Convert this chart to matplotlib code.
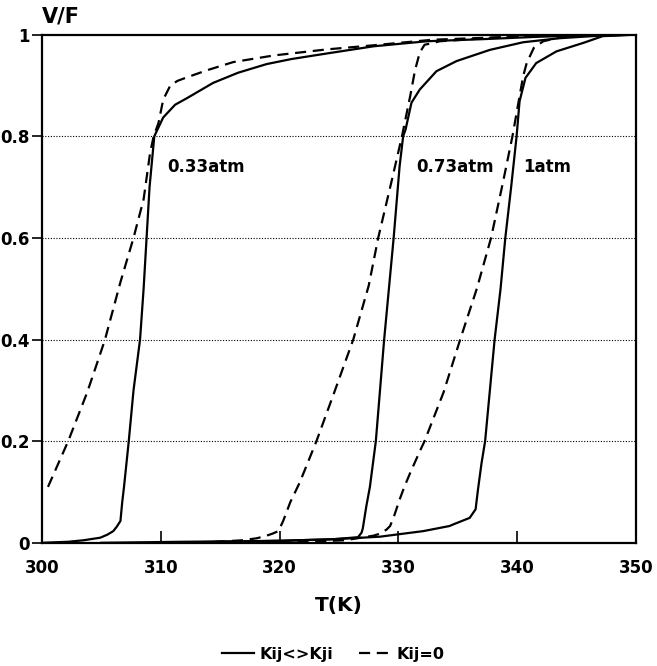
import matplotlib
matplotlib.use('Agg')
import matplotlib.pyplot as plt

# vapour fraction V/F versus temperature, three pressures,
# with binary interaction parameters Kij<>Kji (solid) and Kij=0 (dashed)
t_033_asym = [300.0, 302.2, 303.5, 304.9, 305.5, 306.0, 306.3, 306.6, 306.75, 306.9,
              307.3, 307.7, 308.25, 308.55, 308.8, 309.05, 309.45, 310.2, 311.2, 312.2,
              314.4, 316.5, 318.9, 321.0, 324.0, 327.9, 332.4, 337.0, 342.0, 347.0, 350.0]
v_033_asym = [0.0, 0.002, 0.005, 0.01, 0.016, 0.023, 0.032, 0.043, 0.08, 0.11,
              0.2, 0.3, 0.4, 0.5, 0.6, 0.7, 0.8, 0.837, 0.862, 0.875,
              0.905, 0.925, 0.942, 0.952, 0.963, 0.977, 0.987, 0.991, 0.996, 0.999, 1.0]

t_033_zero = [300.5, 302.2, 303.8, 304.8, 305.3, 306.6, 307.7, 308.55, 309.1, 309.4,
              309.8, 310.2, 310.8, 311.4, 312.2, 313.9, 316.1, 319.5, 324.0, 327.9,
              332.9, 342.3, 350.0]
v_033_zero = [0.11, 0.2, 0.296, 0.365, 0.4, 0.513, 0.6, 0.676, 0.768, 0.8,
              0.826, 0.872, 0.9, 0.909, 0.916, 0.93, 0.946, 0.959, 0.971, 0.979,
              0.99, 0.998, 1.0]

t_073_asym = [305.0, 311.8, 316.9, 320.3, 324.5, 326.6, 326.9, 327.0, 327.3, 327.6,
              328.1, 328.45, 328.8, 329.2, 329.6, 330.1, 330.4, 330.6, 331.1, 331.8,
              333.2, 334.9, 337.7, 340.5, 343.6, 347.0, 350.0]
v_073_asym = [0.0, 0.002, 0.003, 0.004, 0.007, 0.011, 0.02, 0.028, 0.072, 0.11,
              0.2, 0.3, 0.4, 0.5, 0.6, 0.741, 0.8, 0.813, 0.866, 0.892,
              0.928, 0.948, 0.970, 0.985, 0.993, 0.998, 1.0]

t_073_zero = [313.0, 314.7, 316.9, 318.1, 318.9, 319.4, 319.9, 320.3, 320.9, 321.7,
              323.1, 324.6, 326.2, 327.5, 328.3, 329.4, 330.3, 331.0, 331.4, 331.8,
              332.2, 333.5, 338.0, 342.3, 350.0]
v_073_zero = [0.0, 0.002, 0.005, 0.009, 0.014, 0.018, 0.023, 0.043, 0.08, 0.119,
              0.2, 0.296, 0.4, 0.506, 0.6, 0.709, 0.8, 0.88, 0.93, 0.965,
              0.98, 0.987, 0.994, 0.998, 1.0]

t_1_asym = [310.0, 320.0, 324.5, 326.9, 328.45, 330.1, 332.1, 334.3, 334.6, 336.0,
            336.5, 336.7, 337.0, 337.3, 338.1, 338.6, 339.0, 339.5, 339.95, 340.2,
            340.7, 341.6, 343.3, 345.6, 347.2, 350.0]
v_1_asym = [0.0, 0.004, 0.007, 0.01, 0.012, 0.017, 0.023, 0.033, 0.036, 0.049,
            0.066, 0.105, 0.157, 0.2, 0.4, 0.5, 0.6, 0.702, 0.8, 0.869,
            0.915, 0.944, 0.967, 0.984, 0.997, 1.0]

t_1_zero = [320.0, 325.5, 327.9, 328.45, 329.0, 329.3, 329.6, 330.1, 330.5, 331.0,
            331.8, 332.2, 333.8, 335.2, 336.6, 337.8, 338.8, 339.6, 340.5, 340.8,
            341.4, 342.2, 344.1, 350.0]
v_1_zero = [0.0, 0.005, 0.014, 0.018, 0.026, 0.033, 0.05, 0.085, 0.11, 0.138,
            0.18, 0.2, 0.296, 0.4, 0.5, 0.6, 0.709, 0.8, 0.918, 0.944,
            0.974, 0.987, 0.997, 1.0]

pressure_labels = ['0.33atm', '0.73atm', '1atm']
label_t = [310.5, 331.5, 340.5]
label_v = 0.74

x_ticks = [300, 310, 320, 330, 340, 350]
y_ticks = [0, 0.2, 0.4, 0.6, 0.8, 1]
y_ticklabels = ['0', '0.2', '0.4', '0.6', '0.8', '1']

plt.rcParams['font.family'] = ['DejaVu Sans']
plt.rcParams['font.weight'] = 'bold'

fig = plt.figure(figsize=(6.57, 6.66), dpi=100)
ax = fig.add_axes([0.064, 0.185, 0.904, 0.763])

dash = (0, (5, 3))
ax.plot(t_033_asym, v_033_asym, color='black', lw=1.6, label='Kij<>Kji')
ax.plot(t_033_zero, v_033_zero, color='black', lw=1.6, linestyle=dash, label='Kij=0')
ax.plot(t_073_asym, v_073_asym, color='black', lw=1.6)
ax.plot(t_073_zero, v_073_zero, color='black', lw=1.6, linestyle=dash)
ax.plot(t_1_asym, v_1_asym, color='black', lw=1.6)
ax.plot(t_1_zero, v_1_zero, color='black', lw=1.6, linestyle=dash)

for name, t in zip(pressure_labels, label_t):
    ax.text(t, label_v, name, fontsize=12, fontweight='bold', va='center', ha='left')

for yv in y_ticks[1:-1]:
    ax.axhline(yv, color='black', lw=0.8, linestyle=(0, (1, 1.5)), zorder=0)

ax.set_xlim(300, 350)
ax.set_ylim(0, 1)
ax.set_xticks(x_ticks)
ax.set_yticks(y_ticks)
ax.set_yticklabels(y_ticklabels)
ax.tick_params(axis='x', direction='in', length=9, width=1.2, pad=12, labelsize=12)
ax.tick_params(axis='y', direction='out', length=7, width=1.2, pad=2, labelsize=12)
for s in ax.spines.values():
    s.set_linewidth(1.6)

ax.set_xlabel('T(K)', fontsize=14.5, fontweight='bold', labelpad=13)
ax.text(0.032, 1.035, 'V/F', transform=ax.transAxes, fontsize=15,
        fontweight='bold', ha='center', va='center')

ax.legend(loc='center', bbox_to_anchor=(0.49, -0.22), ncol=2, frameon=False,
          fontsize=11.5, handlelength=2.0, columnspacing=1.6, handletextpad=0.35,
          borderpad=0.1)

fig.savefig('out.png', dpi=100)
